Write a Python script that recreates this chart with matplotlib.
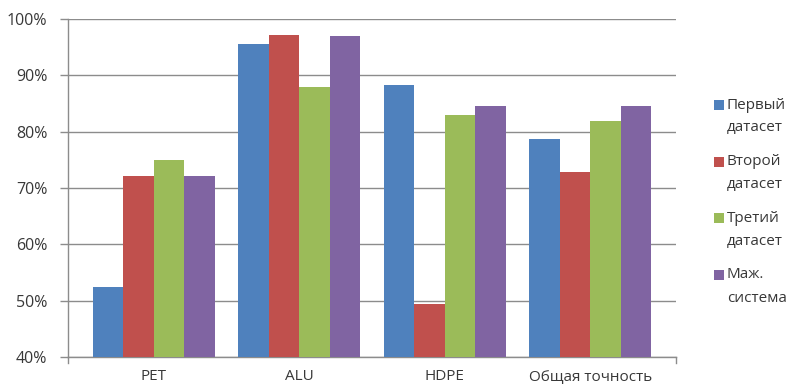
import matplotlib
matplotlib.use("Agg")
import matplotlib.pyplot as plt
from matplotlib.patches import Rectangle
import numpy as np

# Data
categories = ["PET", "ALU", "HDPE", "Общая точность"]
series_names = ["Первый\nдатасет", "Второй\nдатасет", "Третий\nдатасет", "Маж.\nсистема"]
first_ds = [52.4, 95.6, 88.3, 78.7]
second_ds = [72.2, 97.2, 49.4, 72.9]
third_ds = [75.0, 87.9, 82.9, 81.9]
majority = [72.2, 96.9, 84.6, 84.6]
y_ticks = [40, 50, 60, 70, 80, 90, 100]

series = [first_ds, second_ds, third_ds, majority]
colors = ["#4F81BD", "#C0504D", "#9BBB59", "#8064A2"]

plt.rcParams["font.family"] = ["Open Sans", "DejaVu Sans"]
text_color = "#383838"
grid_color = "#8C8C8C"

W, H = 790, 386
fig = plt.figure(figsize=(W / 100, H / 100), dpi=100)
ax = fig.add_axes([68 / W, 1 - 357 / H, (676 - 68) / W, (357 - 19) / H])

x = np.arange(len(categories))
n = len(series)
group_w = 0.84
bw = group_w / n
for i, (vals, c) in enumerate(zip(series, colors)):
    offs = (i - (n - 1) / 2) * bw
    ax.bar(x + offs, [v - 40 for v in vals], width=bw, bottom=40, color=c,
           edgecolor="none", zorder=3)

ax.set_ylim(40, 100)
ax.set_xlim(-0.59, 3.59)
ax.set_yticks(y_ticks)
ax.set_yticklabels([f"{t}%" for t in y_ticks], fontsize=11.5, color=text_color)
ax.yaxis.grid(True, color=grid_color, linewidth=1.0, zorder=0)
ax.set_axisbelow(True)

ax.set_xticks(x)
ax.set_xticklabels(categories, fontsize=11, color=text_color)
ax.tick_params(axis="x", length=0, pad=9)
ax.tick_params(axis="y", length=6, width=1.0, color=grid_color, pad=9)

for s in ["top", "right"]:
    ax.spines[s].set_visible(False)
for s in ["left", "bottom"]:
    ax.spines[s].set_color(grid_color)
    ax.spines[s].set_linewidth(1.0)

# end ticks on the category axis
for xe in ax.get_xlim():
    ax.plot([xe, xe], [0, -0.018], transform=ax.get_xaxis_transform(),
            color=grid_color, linewidth=1.0, clip_on=False)

# legend
entry_y = [105, 162, 218, 275]
for name, c, yy in zip(series_names, colors, entry_y):
    fig.patches.append(Rectangle((714 / W, 1 - (yy + 5) / H), 10 / W, 10 / H,
                                 transform=fig.transFigure, facecolor=c,
                                 edgecolor="none"))
    first, second = name.split("\n")
    fig.text(727 / W, 1 - yy / H, first, fontsize=11, color=text_color,
             va="center", ha="left")
    fig.text(727 / W, 1 - (yy + 23) / H, second, fontsize=11, color=text_color,
             va="center", ha="left")

fig.savefig("out.png", dpi=100)
